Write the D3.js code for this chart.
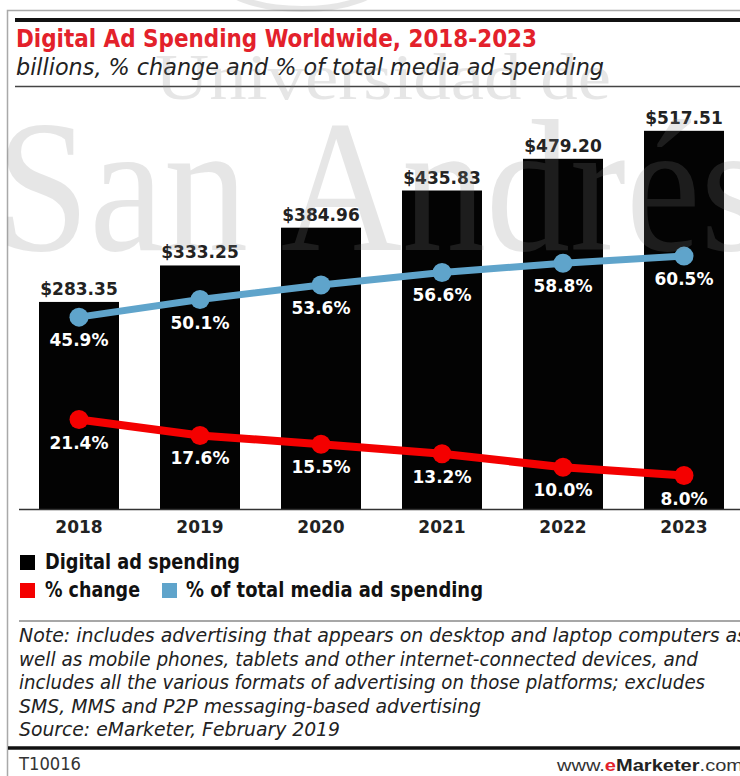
<!DOCTYPE html>
<html>
<head>
<meta charset="utf-8">
<script src="https://cdn.jsdelivr.net/npm/d3@7"></script>
<style>
  html, body { margin: 0; padding: 0; background: #fff; }
  svg { display: block; }
</style>
</head>
<body>
<svg id="chart" width="740" height="776"></svg>
<script>
// Digital ad spending worldwide, 2018-2023
const years = ["2018", "2019", "2020", "2021", "2022", "2023"];
const spending = [283.35, 333.25, 384.96, 435.83, 479.20, 517.51];     // billions USD
const pctChange = [21.4, 17.6, 15.5, 13.2, 10.0, 8.0];                  // % change
const pctOfTotal = [45.9, 50.1, 53.6, 56.6, 58.8, 60.5];                // % of total media ad spending

const titleText = "Digital Ad Spending Worldwide, 2018-2023";
const subtitleText = "billions, % change and % of total media ad spending";
const legendRow1 = [{ label: "Digital ad spending", color: "#000" }];
const legendRow2 = [
  { label: "% change", color: "#f40000" },
  { label: "% of total media ad spending", color: "#5fa4cb" }
];
const noteLines = [
  "Note: includes advertising that appears on desktop and laptop computers as",
  "well as mobile phones, tablets and other internet-connected devices, and",
  "includes all the various formats of advertising on those platforms; excludes",
  "SMS, MMS and P2P messaging-based advertising",
  "Source: eMarketer, February 2019"
];

const condensed = "'Liberation Sans Narrow', 'DejaVu Sans Condensed', 'Roboto Condensed', 'Liberation Sans', Arial, sans-serif";
const wide = "'DejaVu Sans', Verdana, sans-serif";

const svg = d3.select("#chart");

// frame
svg.append("path")
  .attr("d", "M7.5,776 V10.5 H740")
  .attr("fill", "none").attr("stroke", "#a9a9a9").attr("stroke-width", 1.5);

svg.append("line").attr("x1", 15).attr("x2", 740).attr("y1", 20).attr("y2", 20)
  .attr("stroke", "#111").attr("stroke-width", 4);

svg.append("text").attr("x", 16).attr("y", 47)
  .attr("font-family", condensed).attr("font-weight", "bold").attr("font-size", 24)
  .attr("fill", "#e3212b")
  .attr("textLength", 521).attr("lengthAdjust", "spacingAndGlyphs")
  .text(titleText);

svg.append("text").attr("x", 16).attr("y", 75)
  .attr("font-family", condensed).attr("font-style", "italic").attr("font-size", 23)
  .attr("fill", "#222")
  .attr("textLength", 588).attr("lengthAdjust", "spacingAndGlyphs")
  .text(subtitleText);

svg.append("line").attr("x1", 15).attr("x2", 740).attr("y1", 86.5).attr("y2", 86.5)
  .attr("stroke", "#444").attr("stroke-width", 1.5);

// scales
const x = d3.scaleBand().domain(years).range([18.5, 744.5]).paddingInner(0.339).paddingOuter(0.1695);
const yMoney = d3.scaleLinear().domain([0, 572]).range([509, 91]);
const yPct = d3.scaleLinear().domain([0, 100]).range([509, 91]);
const cx = d => x(d) + x.bandwidth() / 2;

const rows = years.map((yr, i) => ({ yr, spend: spending[i], chg: pctChange[i], share: pctOfTotal[i] }));

const plot = svg.append("g");

// bars
plot.selectAll("rect.bar").data(rows).join("rect")
  .attr("class", "bar")
  .attr("x", d => x(d.yr)).attr("width", x.bandwidth())
  .attr("y", d => yMoney(d.spend)).attr("height", d => yMoney(0) - yMoney(d.spend))
  .attr("fill", "#030303");

// bar value labels
plot.selectAll("text.val").data(rows).join("text")
  .attr("class", "val")
  .attr("x", d => cx(d.yr)).attr("y", d => yMoney(d.spend) - 7)
  .attr("text-anchor", "middle")
  .attr("font-family", wide).attr("font-weight", "bold").attr("font-size", 17)
  .attr("fill", "#222")
  .text(d => "$" + d3.format(".2f")(d.spend));

// x axis
const axis = svg.append("g").attr("transform", "translate(0,509)")
  .call(d3.axisBottom(x).tickSize(0).tickPadding(0));
axis.select(".domain").attr("stroke", "#333").attr("stroke-width", 1.5);
axis.selectAll(".tick text")
  .attr("dy", null).attr("y", 24)
  .attr("font-family", wide).attr("font-weight", "bold").attr("font-size", 17)
  .attr("fill", "#222");

// lines
function drawSeries(key, color, width) {
  const line = d3.line().x(d => cx(d.yr)).y(d => yPct(d[key]));
  plot.append("path").datum(rows)
    .attr("d", line).attr("fill", "none")
    .attr("stroke", color).attr("stroke-width", width).attr("stroke-linejoin", "round");
  plot.selectAll("circle." + key).data(rows).join("circle")
    .attr("class", key)
    .attr("cx", d => cx(d.yr)).attr("cy", d => yPct(d[key])).attr("r", 9.5)
    .attr("fill", color);
  plot.selectAll("text." + key).data(rows).join("text")
    .attr("class", key)
    .attr("x", d => cx(d.yr)).attr("y", d => yPct(d[key]) + 29)
    .attr("text-anchor", "middle")
    .attr("font-family", wide).attr("font-weight", "bold").attr("font-size", 17)
    .attr("fill", "#fff")
    .text(d => d3.format(".1f")(d[key]) + "%");
}
drawSeries("share", "#5fa4cb", 7);
drawSeries("chg", "#f40000", 8);

// legend
const legend = svg.append("g").attr("font-family", condensed).attr("font-weight", "bold")
  .attr("font-size", 21).attr("fill", "#111");
const legendLayout = [
  { item: legendRow1[0], sx: 20, tx: 45, y: 569, w: 195 },
  { item: legendRow2[0], sx: 20, tx: 45, y: 597, w: 95 },
  { item: legendRow2[1], sx: 162, tx: 186, y: 597, w: 297 }
];
legendLayout.forEach(l => {
  legend.append("rect").attr("x", l.sx).attr("y", l.y - 14).attr("width", 15).attr("height", 15)
    .attr("fill", l.item.color);
  legend.append("text").attr("x", l.tx).attr("y", l.y)
    .attr("textLength", l.w).attr("lengthAdjust", "spacingAndGlyphs")
    .text(l.item.label);
});

// notes
svg.append("line").attr("x1", 19).attr("x2", 740).attr("y1", 621).attr("y2", 621)
  .attr("stroke", "#8a8a8a").attr("stroke-width", 1.5);
const noteWidths = [728, 679, 686, 462, 321];
svg.append("g").selectAll("text").data(noteLines).join("text")
  .attr("x", 19).attr("y", (d, i) => 642 + i * 23.5)
  .attr("font-family", condensed).attr("font-style", "italic").attr("font-size", 19)
  .attr("fill", "#222")
  .attr("textLength", (d, i) => noteWidths[i]).attr("lengthAdjust", "spacingAndGlyphs")
  .text(d => d);

// footer
svg.append("line").attr("x1", 8).attr("x2", 740).attr("y1", 748).attr("y2", 748)
  .attr("stroke", "#111").attr("stroke-width", 3.5);
svg.append("text").attr("x", 19).attr("y", 770)
  .attr("font-family", condensed).attr("font-size", 17).attr("fill", "#333")
  .attr("textLength", 62).attr("lengthAdjust", "spacingAndGlyphs")
  .text("T10016");
const site = svg.append("text").attr("x", 557).attr("y", 771)
  .attr("font-family", "'Liberation Sans', Arial, sans-serif").attr("font-size", 17).attr("fill", "#333")
  .attr("textLength", 186).attr("lengthAdjust", "spacingAndGlyphs");
site.append("tspan").text("www.");
site.append("tspan").attr("fill", "#e3212b").attr("font-weight", "bold").text("e");
site.append("tspan").attr("font-weight", "bold").attr("fill", "#222").text("Marketer");
site.append("tspan").text(".com");

// watermark overlay
const mark = svg.append("g").attr("fill", "#858585").attr("opacity", 0.2)
  .attr("font-family", "'Liberation Serif', 'DejaVu Serif', serif");
mark.append("ellipse").attr("cx", 302).attr("cy", -22).attr("rx", 82).attr("ry", 31)
  .attr("fill", "none").attr("stroke", "#858585").attr("stroke-width", 6);
mark.append("text").attr("x", 155).attr("y", 99).attr("font-size", 66)
  .attr("textLength", 456).attr("lengthAdjust", "spacingAndGlyphs")
  .text("Universidad de");
mark.append("text").attr("x", -4).attr("y", 250).attr("font-size", 188)
  .attr("textLength", 770).attr("lengthAdjust", "spacingAndGlyphs")
  .text("San Andrés");
</script>
</body>
</html>
